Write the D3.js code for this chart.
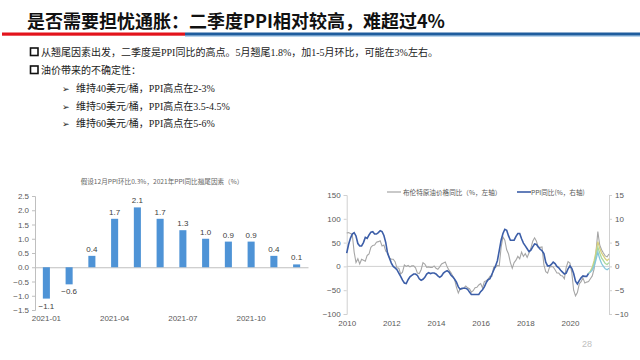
<!DOCTYPE html>
<html><head><meta charset="utf-8">
<script src="https://cdn.jsdelivr.net/npm/d3@7"></script>
<style>body{margin:0;background:#fff}svg{display:block}</style>
</head><body>
<svg id="c" width="640" height="360"></svg>
<script>
// ---------- data ----------
const titleText = "是否需要担忧通胀：二季度PPI相对较高，难超过4%";
const bulletLines = ["从翘尾因素出发，二季度是PPI同比的高点。5月翘尾1.8%，加1-5月环比，可能在3%左右。", "油价带来的不确定性："];
const subLines = ["维持40美元/桶，PPI高点在2-3%", "维持50美元/桶，PPI高点在3.5-4.5%", "维持60美元/桶，PPI高点在5-6%"];

const barTitle = "假设12月PPI环比0.3%，2021年PPI同比翘尾因素（%）";
const barCategories = ["2021-01","2021-02","2021-03","2021-04","2021-05","2021-06","2021-07","2021-08","2021-09","2021-10","2021-11","2021-12"];
const barValues = [-1.1,-0.6,0.4,1.7,2.1,1.7,1.3,1.0,0.9,0.9,0.4,0.1];
const barTickLabels = ["2021-01","2021-04","2021-07","2021-10"];
const barYTicks = [-1.5,-1.0,-0.5,0.0,0.5,1.0,1.5,2.0,2.5];

const lineStartYear = 2010;
const ppiYoY = [
 2.8,4.6,5.9,6.8,7.1,6.4,4.8,4.3,4.3,5.0,6.1,5.9,
 6.6,7.2,7.3,6.8,6.8,7.1,7.5,7.3,6.5,5.0,2.7,1.7,
 0.7,0.0,-0.3,-0.7,-1.4,-2.1,-2.9,-3.5,-3.6,-2.8,-2.2,-1.9,
 -1.6,-1.6,-1.9,-2.6,-2.9,-2.7,-2.3,-1.6,-1.3,-1.5,-1.4,-1.4,
 -1.6,-2.0,-2.3,-2.0,-1.4,-1.1,-0.9,-1.2,-1.8,-2.2,-2.7,-3.3,
 -4.3,-4.8,-4.6,-4.6,-4.6,-4.8,-5.4,-5.9,-5.9,-5.9,-5.9,-5.9,
 -5.3,-4.9,-4.3,-3.4,-2.8,-2.6,-1.7,-0.8,0.1,1.2,3.3,5.5,
 6.9,7.8,7.6,6.4,5.5,5.5,5.5,6.3,6.9,6.9,5.8,4.9,
 4.3,3.7,3.1,3.4,4.1,4.7,4.6,4.1,3.6,3.3,2.7,0.9,
 0.1,0.1,0.4,0.9,0.6,0.0,-0.3,-0.8,-1.2,-1.6,-1.4,-0.5,
 0.1,-0.4,-1.5,-3.1,-3.7,-3.0,-2.4,-2.0,-2.1,-2.1,-1.5];
const oilYoY = [
 70,71,69,67,30,8,16,5,15,13,11,23,
 26,40,44,45,51,52,54,43,45,32,29,18,
 15,15,10,-3,-4,-16,-12,3,0,2,-1,1,
 1,-3,-14,-15,-7,8,5,-2,-1,-2,-2,1,
 -4,-6,-1,5,7,9,-1,-8,-13,-20,-27,-44,
 -56,-47,-48,-45,-41,-45,-47,-54,-51,-45,-44,-39,
 -36,-45,-32,-30,-27,-21,-21,-2,-2,2,1,40,
 62,55,35,26,8,-4,8,13,21,16,30,21,
 27,19,28,38,53,60,53,40,40,41,3,-11,
 -14,-2,0,-1,-7,-14,-14,-19,-20,-26,-2,10,
 7,-13,-50,-62,-55,-37,-32,-24,-35,-33,-32,-26,
 -20,-5,30,73,45,35,28,22,20,26];
const scenarioStartIndex = 130; // 2020-11
const scen60 = [-1.5,-1.0,-0.2,1.2,3.0,5.2,3.8,2.8,2.2,1.6,1.2,1.6];
const scen50 = [-1.5,-1.1,-0.5,0.6,2.2,4.0,2.8,1.8,1.2,0.6,0.4,0.8];
const scen40 = [-1.5,-1.2,-0.8,0.0,1.4,3.0,1.6,0.6,0.0,-0.5,-0.7,-0.4];
const lineYearTicks = [2010,2012,2014,2016,2018,2020];
const leftAxisTicks = [-100,-50,0,50,100,150];
const rightAxisTicks = [-10,-5,0,5,10,15];
const legendLabels = ["布伦特原油价格同比（%，左轴）","PPI同比(%，右轴)"];
const pageNumber = "28";

// ---------- drawing ----------
const svg = d3.select("#c");
const CJK = "'Noto Sans CJK SC', sans-serif";
const SERIF = "'Liberation Serif', 'Noto Sans CJK SC', serif";
const SANS = "'Liberation Sans', Arial, sans-serif";

// header
svg.append("text").attr("x",27).attr("y",28).attr("font-family",CJK).attr("font-weight","bold")
  .attr("font-size",18).attr("fill","#111").text(titleText);
svg.append("rect").attr("x",2).attr("y",32.5).attr("width",183).attr("height",3.2).attr("fill","#e3141c");
svg.append("rect").attr("x",185).attr("y",32.5).attr("width",455).attr("height",3.2).attr("fill","#1f5d9e");
svg.append("rect").attr("x",185).attr("y",35.7).attr("width",455).attr("height",1).attr("fill","#9cc3e6");

// bullets
const bulletY = [56, 74];
bulletLines.forEach((t,i)=>{
  svg.append("rect").attr("x",30.5).attr("y",bulletY[i]-8).attr("width",7.5).attr("height",7.5)
    .attr("fill","none").attr("stroke","#111").attr("stroke-width",1.6);
  svg.append("text").attr("x",41).attr("y",bulletY[i]).attr("font-family",SERIF).attr("font-size",10)
    .attr("fill","#222").text(t);
});
const subY = [92, 109.5, 126.5];
subLines.forEach((t,i)=>{
  svg.append("text").attr("x",62).attr("y",subY[i]).attr("font-family","'DejaVu Sans'").attr("font-size",9)
    .attr("fill","#222").text("➢");
  svg.append("text").attr("x",76).attr("y",subY[i]).attr("font-family",SERIF).attr("font-size",10)
    .attr("fill","#222").text(t);
});

// ---------- bar chart ----------
const bx = d3.scaleBand().domain(barCategories).range([35,308]).paddingInner(0.69).paddingOuter(0.345);
const by = d3.scaleLinear().domain([-1.5,2.5]).range([310,196]);
const bg = svg.append("g");
bg.append("text").attr("x",162).attr("y",184).attr("text-anchor","middle").attr("font-family",CJK)
  .attr("font-size",6.6).attr("fill","#666").text(barTitle);
const yAx = bg.append("g").attr("transform","translate(35,0)")
  .call(d3.axisLeft(by).tickValues(barYTicks).tickFormat(d3.format(".1f")).tickSize(3).tickPadding(3));
yAx.select(".domain").attr("stroke","#bfbfbf");
yAx.selectAll(".tick line").attr("stroke","#bfbfbf");
yAx.selectAll("text").attr("font-family",SANS).attr("font-size",8).attr("fill","#595959");
const xAx = bg.append("g").attr("transform",`translate(0,${by(0)})`)
  .call(d3.axisBottom(bx).tickValues([]).tickSizeOuter(0));
xAx.select(".domain").attr("stroke","#bfbfbf");
bg.selectAll("text.xl").data(barTickLabels).join("text").attr("class","xl")
  .attr("x",d=>bx(d)+bx.bandwidth()/2).attr("y",321).attr("text-anchor","middle")
  .attr("font-family",SANS).attr("font-size",8).attr("fill","#595959").text(d=>d);
bg.selectAll("rect.bar").data(barValues).join("rect").attr("class","bar")
  .attr("x",(d,i)=>bx(barCategories[i])).attr("width",bx.bandwidth())
  .attr("y",d=>by(Math.max(0,d))).attr("height",d=>Math.abs(by(d)-by(0)))
  .attr("fill","#4e93d6");
bg.selectAll("text.bv").data(barValues).join("text").attr("class","bv")
  .attr("x",(d,i)=>bx(barCategories[i])+bx.bandwidth()/2)
  .attr("y",d=> d>=0 ? by(d)-4 : by(d)+10).attr("text-anchor","middle")
  .attr("font-family",SANS).attr("font-size",8).attr("fill","#404040").text(d=>d3.format(".1f")(d));

// ---------- line chart ----------
const lx = d3.scaleLinear().domain([0,141]).range([346.7,609]);
const lyL = d3.scaleLinear().domain([-100,150]).range([314,195]);
const lyR = d3.scaleLinear().domain([-10,15]).range([314,195]);
const lg = svg.append("g");
const la = lg.append("g").attr("transform","translate(346.7,0)")
  .call(d3.axisLeft(lyL).tickValues(leftAxisTicks).tickSize(3).tickPadding(3));
const ra = lg.append("g").attr("transform","translate(609,0)")
  .call(d3.axisRight(lyR).tickValues(rightAxisTicks).tickSize(3).tickPadding(3));
[la,ra].forEach(a=>{
  a.select(".domain").attr("stroke","#d0d0d0");
  a.selectAll(".tick line").attr("stroke","#d0d0d0");
  a.selectAll("text").attr("font-family",SANS).attr("font-size",8).attr("fill","#595959");
});
lg.append("line").attr("x1",346.7).attr("x2",609).attr("y1",lyL(0)).attr("y2",lyL(0)).attr("stroke","#d0d0d0");
const ba = lg.append("g").attr("transform","translate(0,314)")
  .call(d3.axisBottom(lx).tickValues(lineYearTicks.map(y=>(y-lineStartYear)*12)).tickFormat((d)=>lineStartYear+d/12).tickSize(0).tickPadding(6));
ba.select(".domain").remove();
ba.selectAll("text").attr("font-family",SANS).attr("font-size",8).attr("fill","#595959");

const lineL = d3.line().x((d,i)=>lx(i)).y(d=>lyL(d)).curve(d3.curveLinear);
const lineR = d3.line().x((d,i)=>lx(i)).y(d=>lyR(d));
const scenLine = d3.line().x((d,i)=>lx(scenarioStartIndex+i)).y(d=>lyR(d));
lg.append("path").attr("d",lineL(oilYoY)).attr("fill","none").attr("stroke","#a6a6a6").attr("stroke-width",1.1);
lg.append("path").attr("d",scenLine(scen60)).attr("fill","none").attr("stroke","#d8d07e").attr("stroke-width",1.3);
lg.append("path").attr("d",scenLine(scen50)).attr("fill","none").attr("stroke","#a9d79c").attr("stroke-width",1.3);
lg.append("path").attr("d",scenLine(scen40)).attr("fill","none").attr("stroke","#85c6dc").attr("stroke-width",1.3);
lg.append("path").attr("d",lineR(ppiYoY)).attr("fill","none").attr("stroke","#3c5ea8").attr("stroke-width",1.6);

// legend
lg.append("line").attr("x1",387).attr("x2",401).attr("y1",192).attr("y2",192).attr("stroke","#a6a6a6").attr("stroke-width",1.2);
lg.append("text").attr("x",403).attr("y",194.5).attr("font-family",CJK).attr("font-size",6.6).attr("fill","#555").text(legendLabels[0]);
lg.append("line").attr("x1",517).attr("x2",531).attr("y1",192).attr("y2",192).attr("stroke","#3c5ea8").attr("stroke-width",1.6);
lg.append("text").attr("x",531).attr("y",194.5).attr("font-family",CJK).attr("font-size",6.6).attr("fill","#555").text(legendLabels[1]);

svg.append("text").attr("x",587).attr("y",347).attr("text-anchor","middle").attr("font-family",SANS)
  .attr("font-size",9).attr("fill","#c0c0c0").text(pageNumber);
</script>
</body></html>
